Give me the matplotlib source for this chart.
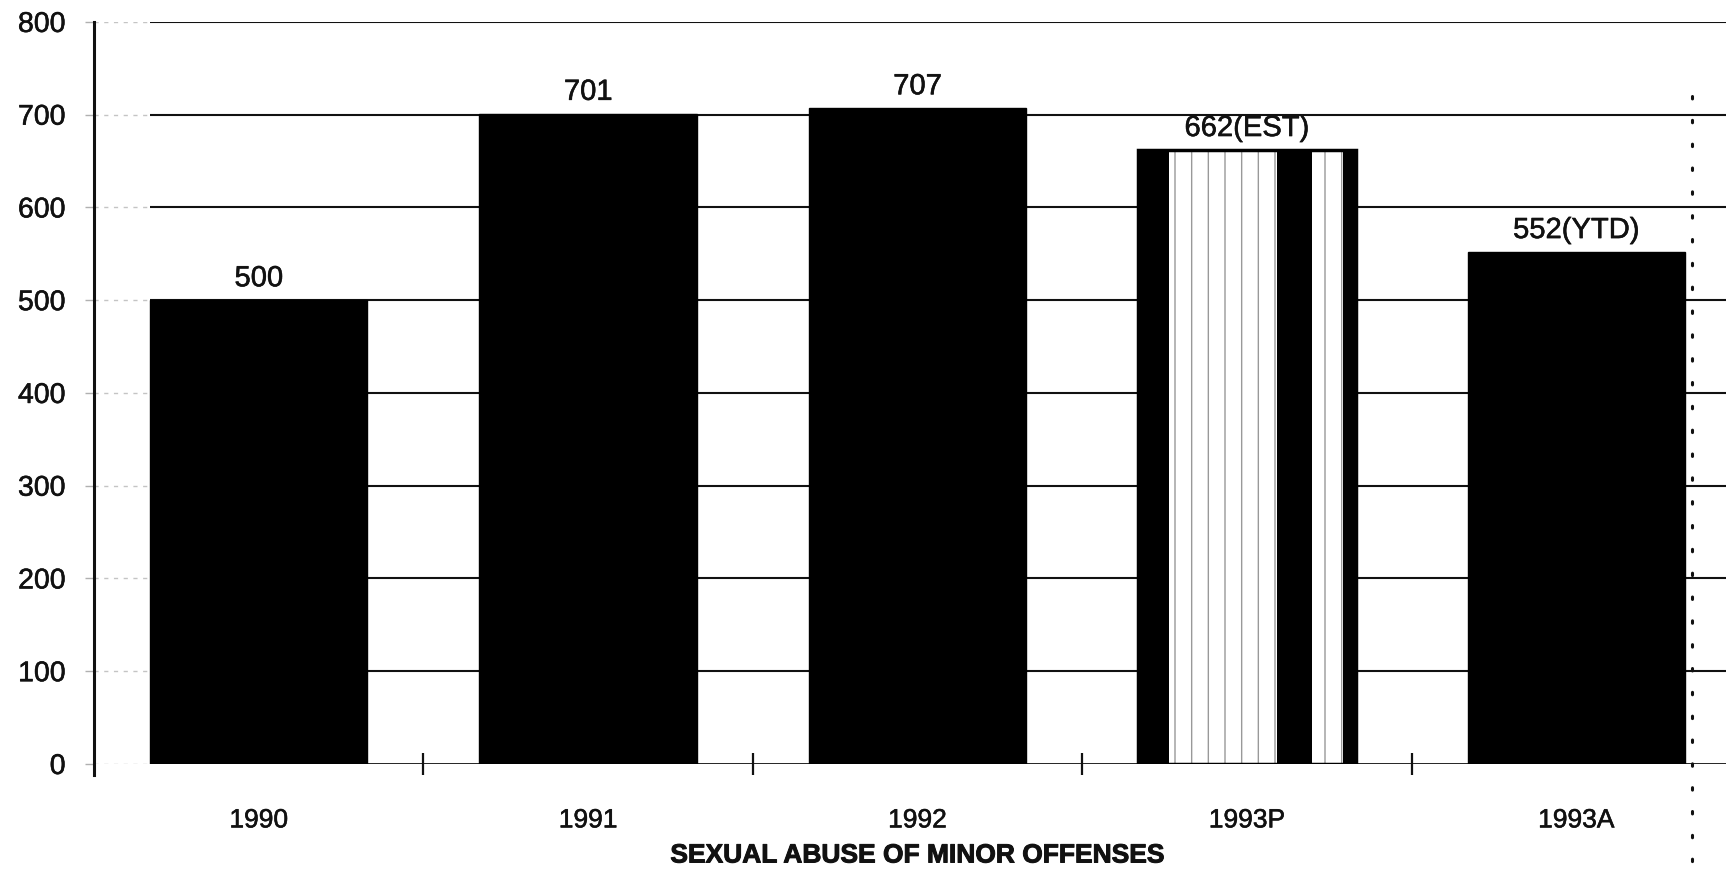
import numpy as np
import matplotlib
matplotlib.use("Agg")
import matplotlib.pyplot as plt
import matplotlib.patheffects as pe
from matplotlib.lines import Line2D

# --- data -------------------------------------------------------------
categories = ["1990", "1991", "1992", "1993P", "1993A"]
offenses = [500, 701, 707, 662, 552]
value_notes = ["", "", "", "(EST)", "(YTD)"]
y_ticks = [0, 100, 200, 300, 400, 500, 600, 700, 800]
x_title = "SEXUAL ABUSE OF MINOR OFFENSES"

# --- style ------------------------------------------------------------
plt.rcParams["font.family"] = ["Liberation Sans", "DejaVu Sans"]
plt.rcParams["hatch.linewidth"] = 1.0
ink = "#111111"
heavy = [pe.withStroke(linewidth=0.4, foreground=ink)]
heavier = [pe.withStroke(linewidth=0.7, foreground=ink)]
bar_width = 0.66
# striped fill used for the projected (estimate) bar: dark bands as
# fractions of the bar width
stripe_bands = [(0.0, 0.14), (0.64, 0.80), (0.94, 1.0)]
striped_index = 3

fig = plt.figure(figsize=(17.26, 8.73), dpi=100)
ax = fig.add_axes([0.0545, 0.1249, 0.9542, 0.850])

x = np.arange(len(categories))
xmin, xmax = -0.5, len(categories) - 0.5
ax.set_xlim(xmin, xmax)
ax.set_ylim(0, 800)

# horizontal rules: faint stub left of the first bar, solid elsewhere
first_left = x[0] - bar_width / 2
ax.hlines(y_ticks, xmin, first_left, colors="#c4c4c4", linewidth=1.0,
          linestyles=(0, (3, 4)), zorder=1)
ax.hlines(y_ticks[1:], first_left, xmax, colors=ink, linewidth=1.5, zorder=1)
ax.hlines([0], first_left, xmax, colors=ink, linewidth=2.0, zorder=1)

# bars
for i, (xi, v) in enumerate(zip(x, offenses)):
    left = xi - bar_width / 2
    if i == striped_index:
        ax.bar(xi, v, width=bar_width, color="white", edgecolor="none", zorder=2)
        # speckled light areas
        ax.bar(xi, v, width=bar_width, color="none", edgecolor="#999999",
               linewidth=0, hatch="|", zorder=2.1)
        for a, b in stripe_bands:
            ax.bar(left + a * bar_width, v, width=(b - a) * bar_width,
                   align="edge", color="black", edgecolor="none", zorder=2.2)
        ax.bar(xi, v, width=bar_width, color="none", edgecolor="black",
               linewidth=2.5, zorder=2.3)
    else:
        ax.bar(xi, v, width=bar_width, color="black", edgecolor="black",
               linewidth=1, zorder=2)

# value labels above bars
for xi, v, note in zip(x, offenses, value_notes):
    ax.annotate(f"{v}{note}", xy=(xi, v), xytext=(0, 10),
                textcoords="offset points", ha="center", va="baseline",
                fontsize=21, color=ink, path_effects=heavy)

# axes decoration
for side in ("top", "right", "bottom"):
    ax.spines[side].set_visible(False)
ax.spines["left"].set_color(ink)
ax.spines["left"].set_linewidth(2.2)
ax.spines["left"].set_bounds(-12, 800)

ax.set_yticks(y_ticks)
ax.set_yticklabels([str(t) for t in y_ticks])
ax.tick_params(axis="y", direction="out", length=6.5, width=1.0,
               color="#b0b0b0", pad=14, labelsize=20.5, labelcolor=ink)

# category boundaries get cross ticks, category centres get the labels
ax.set_xticks(np.arange(len(categories) - 1) + 0.5)
ax.set_xticklabels([])
ax.tick_params(axis="x", which="major", direction="inout", length=16,
               width=1.6, color=ink)
ax.set_xticks(x, minor=True)
ax.set_xticklabels(categories, minor=True)
ax.tick_params(axis="x", which="minor", length=0, pad=32, labelsize=19,
               labelcolor=ink)

for lbl in ax.get_yticklabels() + ax.get_xticklabels(minor=True):
    lbl.set_path_effects(heavy)

ax.set_xlabel(x_title, fontsize=19, fontweight="bold", color=ink,
              labelpad=8, path_effects=heavier)

# dotted right-hand border of the chart frame
border_x = x[-1] + bar_width / 2 + 0.022
ax.add_line(Line2D([border_x, border_x], [0.90, -0.16],
                   transform=ax.get_xaxis_transform(), color=ink,
                   linewidth=2.2, linestyle=(0, (0.8, 7)),
                   dash_capstyle="round", clip_on=False, zorder=3))

fig.savefig("out.png", dpi=100, facecolor="white")
